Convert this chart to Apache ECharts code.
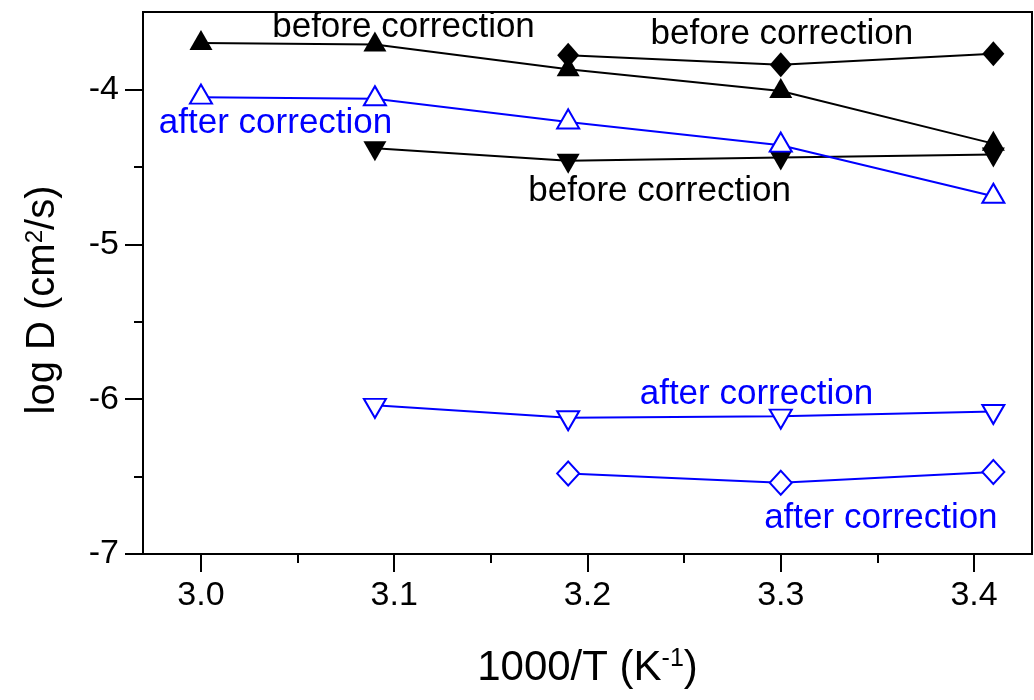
<!DOCTYPE html>
<html>
<head>
<meta charset="utf-8">
<script src="https://cdn.jsdelivr.net/npm/echarts@6/dist/echarts.min.js"></script>
<style>
  html, body { margin: 0; padding: 0; background: #fff; }
  #chart { width: 1034px; height: 700px; }
</style>
</head>
<body>
<div id="chart"></div>
<script>
// 1000/T values (K^-1) for each data set
const tempsUp = [3.0, 3.09, 3.19, 3.3, 3.41];
const tempsDown = [3.09, 3.19, 3.3, 3.41];
const tempsDiamond = [3.19, 3.3, 3.41];

// log D (cm^2/s)
const upBefore = [-3.70, -3.71, -3.87, -4.01, -4.35];
const upAfter = [-4.05, -4.06, -4.21, -4.36, -4.69];
const downBefore = [-4.38, -4.46, -4.44, -4.42];
const downAfter = [-6.04, -6.12, -6.11, -6.08];
const diamondBefore = [-3.78, -3.84, -3.77];
const diamondAfter = [-6.48, -6.54, -6.47];

// axis ticks
const xTicks = [3.0, 3.1, 3.2, 3.3, 3.4];
const xMinorTicks = [3.05, 3.15, 3.25, 3.35];
const yTicks = [-7, -6, -5, -4];
const yMinorTicks = [-6.5, -5.5, -4.5];

// text notes anchored in data coordinates: [1000/T, log D, text]
const beforeNotes = [
  [3.1048, -3.597, 'before correction'],
  [3.3006, -3.644, 'before correction'],
  [3.2373, -4.657, 'before correction']
];
const afterNotes = [
  [3.0386, -4.220, 'after correction'],
  [3.2874, -5.967, 'after correction'],
  [3.3518, -6.768, 'after correction']
];

const FONT = '"Liberation Sans", Arial, Helvetica, sans-serif';
const BLACK = '#000000';
const BLUE = '#0000ff';

const pair = (xs, ys) => xs.map((x, i) => [x, ys[i]]);

function lineSeries(xs, ys, color, filled, symbol, rotate, offsetY, size) {
  return {
    type: 'line',
    data: pair(xs, ys),
    symbol: symbol,
    symbolSize: size,
    symbolRotate: rotate,
    symbolOffset: [0, offsetY],
    showAllSymbol: true,
    lineStyle: { color: color, width: 2 },
    itemStyle: {
      color: filled ? color : '#ffffff',
      borderColor: color,
      borderWidth: filled ? 0 : 2,
      opacity: 1
    },
    emphasis: { disabled: true },
    z: 3,
    animation: false
  };
}

function noteSeries(notes, color) {
  return {
    type: 'scatter',
    data: notes.map(n => ({ value: [n[0], n[1]], name: n[2] })),
    symbolSize: 1,
    itemStyle: { color: 'rgba(0,0,0,0)', opacity: 1 },
    label: {
      show: true,
      position: 'inside',
      align: 'center',
      verticalAlign: 'middle',
      formatter: p => p.name,
      fontFamily: FONT,
      fontSize: 35,
      color: color,
      opacity: 1
    },
    emphasis: { disabled: true },
    silent: true,
    z: 2,
    animation: false
  };
}

const chart = echarts.init(document.getElementById('chart'), null, { renderer: 'canvas' });

chart.setOption({
  backgroundColor: '#ffffff',
  animation: false,
  grid: {
    left: 143, right: 2, top: 12, bottom: 146,
    show: true, borderColor: BLACK, borderWidth: 2, backgroundColor: 'transparent'
  },
  xAxis: [
    {
      type: 'value', min: 2.97, max: 3.43, position: 'bottom',
      axisLine: { show: true, lineStyle: { color: BLACK, width: 2 } },
      axisTick: { show: true, inside: false, length: 18, lineStyle: { color: BLACK, width: 2 }, customValues: xTicks },
      axisLabel: {
        customValues: xTicks, formatter: v => Number(v).toFixed(1),
        fontFamily: FONT, fontSize: 34, color: BLACK, margin: 25
      },
      splitLine: { show: false },
      name: '1000/T (K{sup|-1})',
      nameLocation: 'middle',
      nameGap: 93,
      nameTextStyle: {
        fontFamily: FONT, fontSize: 42, color: BLACK,
        rich: { sup: { fontFamily: FONT, fontSize: 25, color: BLACK, verticalAlign: 'top' } }
      }
    },
    {
      type: 'value', min: 2.97, max: 3.43, position: 'bottom',
      axisLine: { show: false },
      axisTick: { show: true, inside: false, length: 9, lineStyle: { color: BLACK, width: 2 }, customValues: xMinorTicks },
      axisLabel: { show: false },
      splitLine: { show: false }
    }
  ],
  yAxis: [
    {
      type: 'value', min: -7, max: -3.5, position: 'left',
      axisLine: { show: true, lineStyle: { color: BLACK, width: 2 } },
      axisTick: { show: true, inside: false, length: 18, lineStyle: { color: BLACK, width: 2 }, customValues: yTicks },
      axisLabel: {
        customValues: yTicks, formatter: v => String(v),
        fontFamily: FONT, fontSize: 34, color: BLACK, margin: 24
      },
      splitLine: { show: false },
      name: 'log D (cm{sup|2}/s)',
      nameLocation: 'middle',
      nameGap: 80,
      nameTextStyle: {
        fontFamily: FONT, fontSize: 40, color: BLACK,
        padding: [0, 34, 0, 0],
        rich: { sup: { fontFamily: FONT, fontSize: 24, color: BLACK, verticalAlign: 'top' } }
      }
    },
    {
      type: 'value', min: -7, max: -3.5, position: 'left',
      axisLine: { show: false },
      axisTick: { show: true, inside: false, length: 9, lineStyle: { color: BLACK, width: 2 }, customValues: yMinorTicks },
      axisLabel: { show: false },
      splitLine: { show: false }
    }
  ],
  series: [
    noteSeries(beforeNotes, BLACK),
    noteSeries(afterNotes, BLUE),
    lineSeries(tempsUp, upBefore, BLACK, true, 'triangle', 0, -3, [23, 20]),
    lineSeries(tempsDiamond, diamondBefore, BLACK, true, 'diamond', 0, 0, [22, 25]),
    lineSeries(tempsDown, downBefore, BLACK, true, 'triangle', 180, 3, [23, 20]),
    lineSeries(tempsUp, upAfter, BLUE, false, 'triangle', 0, -3, [22, 19]),
    lineSeries(tempsDown, downAfter, BLUE, false, 'triangle', 180, 3, [22, 19]),
    lineSeries(tempsDiamond, diamondAfter, BLUE, false, 'diamond', 0, 0, [22, 24])
  ]
});
</script>
</body>
</html>
